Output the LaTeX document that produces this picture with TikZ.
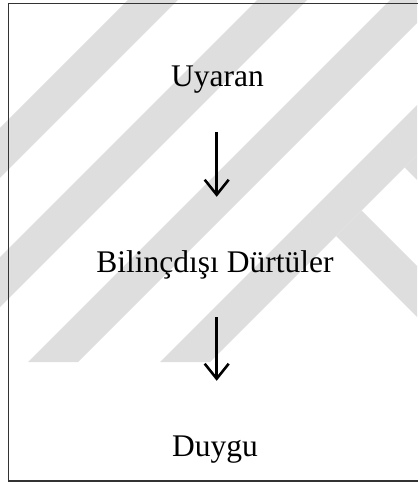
\documentclass[tikz,border=0pt]{standalone}
\usepackage{fontspec}
\setmainfont{Liberation Serif}
\usetikzlibrary{arrows.meta}
\definecolor{wm}{gray}{0.87}
\definecolor{framecol}{gray}{0.2}
\tikzset{
  lbl/.style={anchor=base, inner sep=0pt, font=\fontsize{31.5}{36}\selectfont, text height=22pt, text depth=7pt},
  flow/.style={line width=2.6pt, -{Straight Barb[length=15pt,width=24pt]}, shorten <=38pt, shorten >=53pt},
  band/.style={fill=wm, draw=none},
  frameline/.style={draw=framecol, line width=1.4pt}
}
\begin{document}
\begin{tikzpicture}[x=1pt,y=-1pt]
\useasboundingbox (0,0) rectangle (417,486);
% watermark
\begin{scope}
\clip (0,0) rectangle (417,486);
\fill[band] (128,0) -- (178,0) -- (0,178) -- (0,128) -- cycle;
\fill[band] (257,0) -- (307,0) -- (0,307) -- (0,257) -- cycle;
\fill[band] (390,0) -- (440,0) -- (78,362) -- (28,362) -- cycle;
\fill[band] (522,0) -- (572,0) -- (210,362) -- (160,362) -- cycle;
\fill[band] (404.5,167.5) -- (500,263) -- (500,72) -- cycle;
\fill[band] (361.5,210.5) -- (500,349) -- (500,400) -- (336,236) -- cycle;
\end{scope}
% frame
\draw[frameline] (420,3.5) -- (8.3,3.5) -- (8.3,481) -- (420,481);
% nodes
\node[lbl] (u) at (217.5,87) {Uyaran};
\node[lbl] (b) at (215,272) {Bilinçdışı Dürtüler};
\node[lbl] (d) at (215,456) {Duygu};
\coordinate (ax) at (216.7,0);
\draw[flow] (ax |- u.south) -- (ax |- b.north);
\draw[flow] (ax |- b.south) -- (ax |- d.north);
\end{tikzpicture}
\end{document}
